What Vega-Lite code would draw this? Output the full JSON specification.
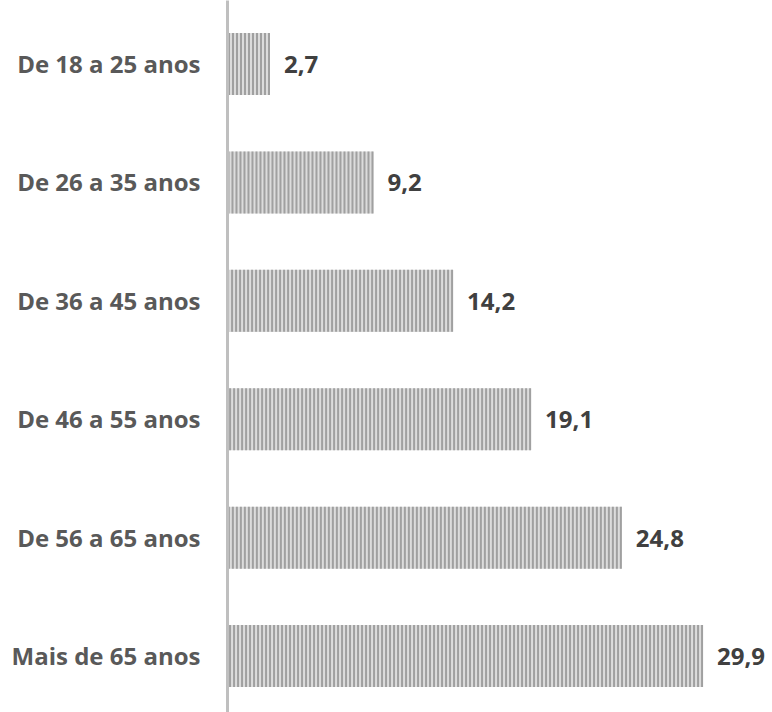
{
  "$schema": "https://vega.github.io/schema/vega-lite/v6.json",
  "autosize": {"type": "none"},
  "padding": {"left": 227, "top": 0, "right": 0, "bottom": 0},
  "width": 545,
  "height": 712,
  "background": "white",
  "config": {"view": {"stroke": null}},
  "data": {
    "values": [
      {"faixa": "De 18 a 25 anos", "valor": 2.7, "rotulo": "2,7"},
      {"faixa": "De 26 a 35 anos", "valor": 9.2, "rotulo": "9,2"},
      {"faixa": "De 36 a 45 anos", "valor": 14.2, "rotulo": "14,2"},
      {"faixa": "De 46 a 55 anos", "valor": 19.1, "rotulo": "19,1"},
      {"faixa": "De 56 a 65 anos", "valor": 24.8, "rotulo": "24,8"},
      {"faixa": "Mais de 65 anos", "valor": 29.9, "rotulo": "29,9"}
    ]
  },
  "encoding": {
    "y": {
      "field": "faixa",
      "type": "nominal",
      "sort": null,
      "scale": {"paddingInner": 0.476, "paddingOuter": 0.245, "align": 0.57},
      "axis": {
        "title": null,
        "domainColor": "#bfbfbf",
        "domainWidth": 3,
        "ticks": false,
        "labelFont": "Open Sans",
        "labelFontWeight": "bold",
        "labelFontSize": 24,
        "labelColor": "#595959",
        "labelPadding": 27,
        "labelLimit": 0,
        "labelOffset": 2,
        "zindex": 1
      }
    }
  },
  "layer": [
    {
      "mark": {"type": "bar", "color": "#dcdcdc"},
      "encoding": {
        "x": {"field": "valor", "type": "quantitative", "scale": {"domain": [0, 34.23], "nice": false, "zero": true}, "axis": null}
      }
    },
    {
      "mark": {"type": "rule", "strokeWidth": 62, "strokeDash": [2, 2], "color": "#a0a0a0", "strokeCap": "butt"},
      "encoding": {
        "x": {"field": "valor", "type": "quantitative"},
        "x2": {"datum": 0}
      }
    },
    {
      "mark": {"type": "text", "align": "left", "baseline": "middle", "dx": 14, "dy": 2, "font": "Open Sans", "fontWeight": "bold", "fontSize": 24, "color": "#404040"},
      "encoding": {
        "x": {"field": "valor", "type": "quantitative"},
        "text": {"field": "rotulo"}
      }
    }
  ]
}
